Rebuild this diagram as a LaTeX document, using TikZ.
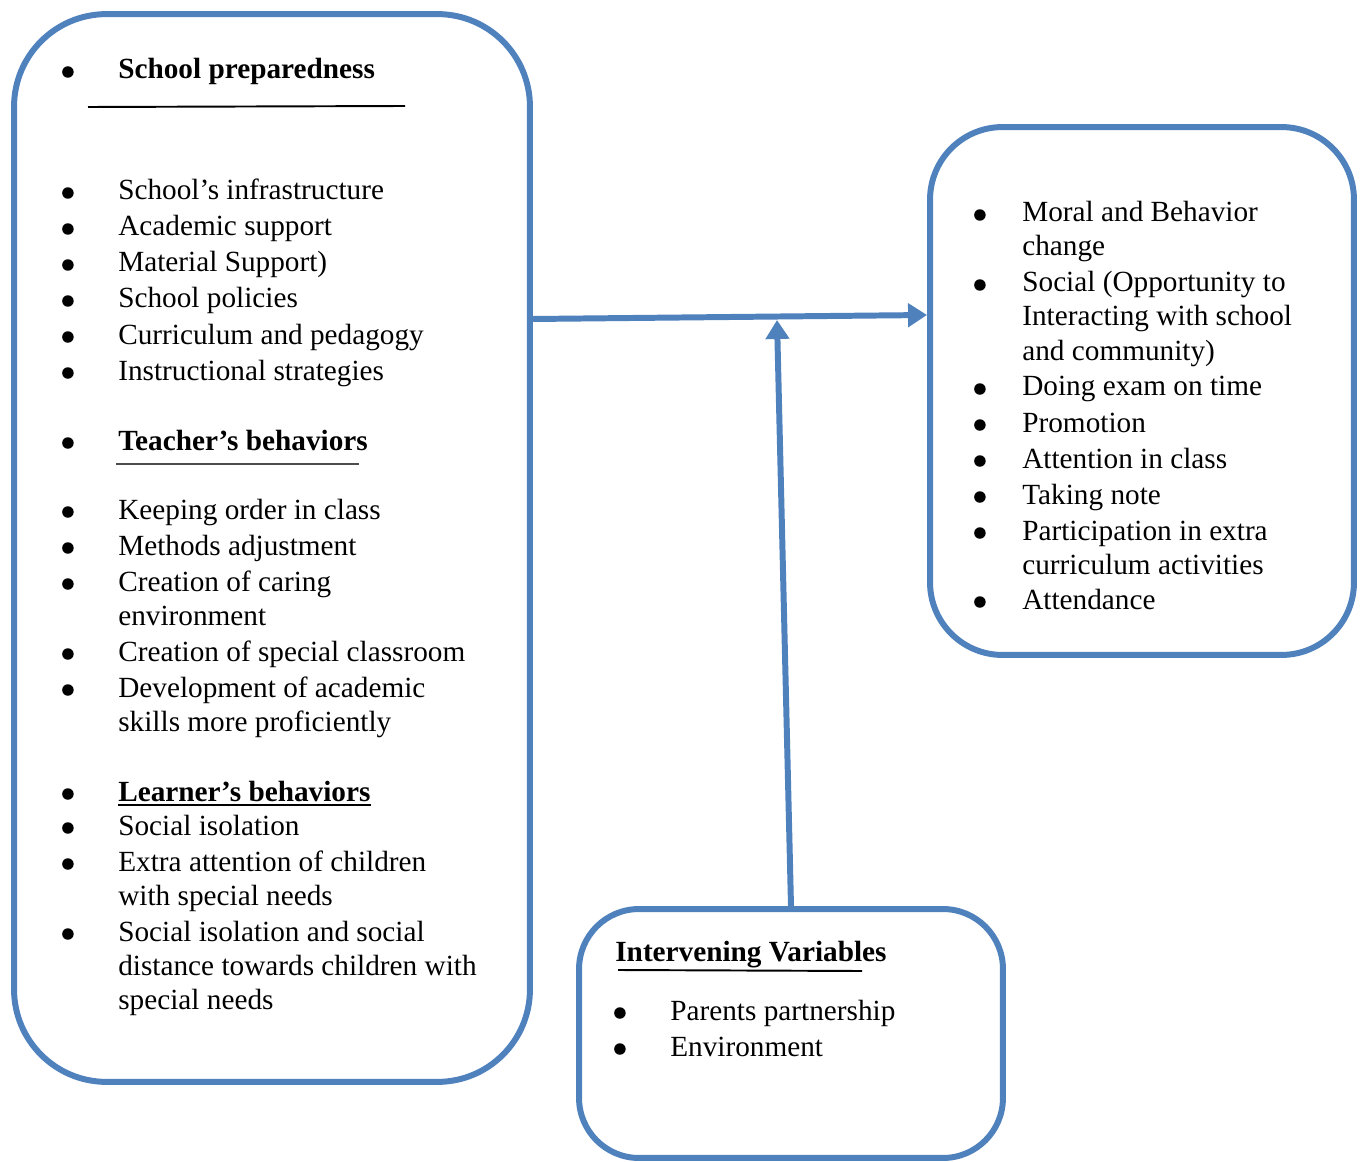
\documentclass[tikz,border=0pt]{standalone}
\usepackage{fontspec}
\setmainfont{Liberation Serif}
\usetikzlibrary{arrows.meta}

\definecolor{frame}{RGB}{79,129,189}

\tikzset{
  box/.style   ={draw=frame, line width=3.4pt, inner sep=0pt},
  flow/.style  ={draw=frame, line width=3.4pt, -{Triangle[length=0.38cm, width=0.46cm]}},
  rule/.style  ={line width=1.1pt},
  dot/.style   ={circle, fill=black, inner sep=0pt, minimum size=0.23cm},
  txt/.style   ={anchor=base west, inner sep=0pt, text height=0.42cm, text depth=0.14cm,
                 font=\fontsize{16.65pt}{20pt}\selectfont},
  item/.style  ={txt, label={[dot, label distance=#1]left:{}}},
  item/.default=0.88cm,
  head/.style  ={item, font=\fontsize{16.65pt}{20pt}\selectfont\bfseries},
  headtxt/.style={txt, font=\fontsize{16.65pt}{20pt}\selectfont\bfseries}
}

\begin{document}
\begin{tikzpicture}[x=0.02cm, y=-0.02cm]
  \useasboundingbox[fill=white] (0,0) rectangle (1363,1162);

  % the three frames
  \node[box, minimum width=10.32cm, minimum height=21.36cm, rounded corners=1.85cm] (school)  at (272,548)    {};
  \node[box, minimum width=8.48cm,  minimum height=10.56cm, rounded corners=1.45cm] (outcome) at (1142,391)   {};
  \node[box, minimum width=8.48cm,  minimum height=4.98cm,  rounded corners=1.2cm]  (interv)  at (791,1033.5) {};

  % school side
  \node[head] (sp)   at (118,79)   {School preparedness};
  \node[item] (sp1)  at (118,200)  {School's infrastructure};
  \node[item] (sp2)  at (118,236)  {Academic support};
  \node[item] (sp3)  at (118,272)  {Material Support)};
  \node[item] (sp4)  at (118,308)  {School policies};
  \node[item] (sp5)  at (118,344)  {Curriculum and pedagogy};
  \node[item] (sp6)  at (118,380)  {Instructional strategies};

  \node[head] (tb)   at (118,450)  {Teacher's behaviors};
  \node[item] (tb1)  at (118,519)  {Keeping order in class};
  \node[item] (tb2)  at (118,555)  {Methods adjustment};
  \node[item] (tb3)  at (118,591)  {Creation of caring};
  \node[txt]  (tb3b) at (118,625)  {environment};
  \node[item] (tb4)  at (118,661)  {Creation of special classroom};
  \node[item] (tb5)  at (118,697)  {Development of academic};
  \node[txt]  (tb5b) at (118,731)  {skills more proficiently};

  \node[head] (lb)   at (118,801)  {Learner's behaviors};
  \node[item] (lb1)  at (118,835)  {Social isolation};
  \node[item] (lb2)  at (118,871)  {Extra attention of children};
  \node[txt]  (lb2b) at (118,905)  {with special needs};
  \node[item] (lb3)  at (118,941)  {Social isolation and social};
  \node[txt]  (lb3b) at (118,975)  {distance towards children with};
  \node[txt]  (lb3c) at (118,1009) {special needs};

  \draw[rule]          (sp.base west) ++(-30,28) -- ++(317,-1);
  \draw[rule,black!70] (tb.base west) ++(-2,14)  -- ++(243,0);
  \draw[line width=1.5pt] ([yshift=-2.3pt]lb.base west) -- ([yshift=-2.3pt]lb.base east);

  % outcomes
  \node[item=0.72cm] (oc1)  at (1022,222) {Moral and Behavior};
  \node[txt]         (oc1b) at (1022,256) {change};
  \node[item=0.72cm] (oc2)  at (1022,292) {Social (Opportunity to};
  \node[txt]         (oc2b) at (1022,326) {Interacting with school};
  \node[txt]         (oc2c) at (1022,360) {and community)};
  \node[item=0.72cm] (oc3)  at (1022,396) {Doing exam on time};
  \node[item=0.72cm] (oc4)  at (1022,432) {Promotion};
  \node[item=0.72cm] (oc5)  at (1022,468) {Attention in class};
  \node[item=0.72cm] (oc6)  at (1022,504) {Taking note};
  \node[item=0.72cm] (oc7)  at (1022,540) {Participation in extra};
  \node[txt]         (oc7b) at (1022,574) {curriculum activities};
  \node[item=0.72cm] (oc8)  at (1022,609) {Attendance};

  % intervening variables
  \node[headtxt] (iv)  at (615,961)  {Intervening Variables};
  \node[item]    (iv1) at (670,1020) {Parents partnership};
  \node[item]    (iv2) at (670,1056) {Environment};
  \draw[rule] (iv.base west) ++(3,9) -- ++(244,1);

  % arrows
  \coordinate (join) at (777,320);
  \draw[flow] (school.east |- 0,319) -- (outcome.west |- 0,315);
  \draw[flow] (interv.north) -- (join);
\end{tikzpicture}
\end{document}
